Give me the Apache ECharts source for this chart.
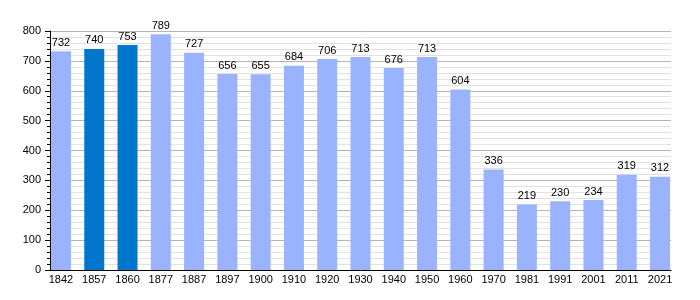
<!DOCTYPE html>
<html>
<head>
<meta charset="utf-8">
<script src="https://cdn.jsdelivr.net/npm/echarts@6/dist/echarts.min.js"></script>
<style>html,body{margin:0;padding:0;background:#fff}#c{width:700px;height:300px}</style>
</head>
<body>
<div id="c"></div>
<script>
var years = ['1842','1857','1860','1877','1887','1897','1900','1910','1920','1930','1940','1950','1960','1970','1981','1991','2001','2011','2021'];
var population = [732,740,753,789,727,656,655,684,706,713,676,713,604,336,219,230,234,319,312];
var highlighted = ['1857','1860'];
var yTicks = [0,100,200,300,400,500,600,700,800];

var lightColor = '#99b3ff';
var darkColor = '#0077cc';
var font = '"Liberation Sans", Arial, sans-serif';

var chart = echarts.init(document.getElementById('c'), null, {renderer: 'canvas'});
chart.setOption({
  animation: false,
  backgroundColor: '#ffffff',
  grid: [
    {left: 50, top: 31, width: 621, height: 239},
    {left: 44.33, top: 31, width: 632.33, height: 239}
  ],
  xAxis: [
    {gridIndex: 0, type: 'category', data: years,
      axisLine: {show: true, lineStyle: {color: '#000', width: 1}},
      axisTick: {show: false}, axisLabel: {show: false}, splitLine: {show: false}},
    {gridIndex: 1, type: 'category', data: years,
      axisLine: {show: false}, axisTick: {show: false},
      axisLabel: {show: true, color: '#000', fontSize: 11, fontFamily: font, margin: 4}}
  ],
  yAxis: [
    {gridIndex: 0, type: 'value', min: yTicks[0], max: yTicks[yTicks.length-1], interval: 100,
      axisLine: {show: true, lineStyle: {color: '#000', width: 1}},
      axisTick: {show: true, inside: false, length: 5, lineStyle: {color: '#000'}},
      minorTick: {show: true, splitNumber: 5, length: 3, lineStyle: {color: '#000'}},
      axisLabel: {color: '#000', fontSize: 11, fontFamily: font, margin: 9},
      splitLine: {show: true, lineStyle: {color: '#b4b4b4', width: 1}},
      minorSplitLine: {show: true, lineStyle: {color: '#e2e2e2', width: 1}}},
    {gridIndex: 1, type: 'value', min: 0, max: 800, show: false,
      splitLine: {show: false}}
  ],
  series: [{
    type: 'bar',
    xAxisIndex: 1, yAxisIndex: 1,
    barWidth: 20,
    data: population.map(function (v, i) {
      return {value: v, itemStyle: {color: highlighted.indexOf(years[i]) >= 0 ? darkColor : lightColor}};
    }),
    label: {show: true, position: 'top', distance: 3, color: '#000', fontSize: 11, fontFamily: font}
  }]
});
</script>
</body>
</html>
